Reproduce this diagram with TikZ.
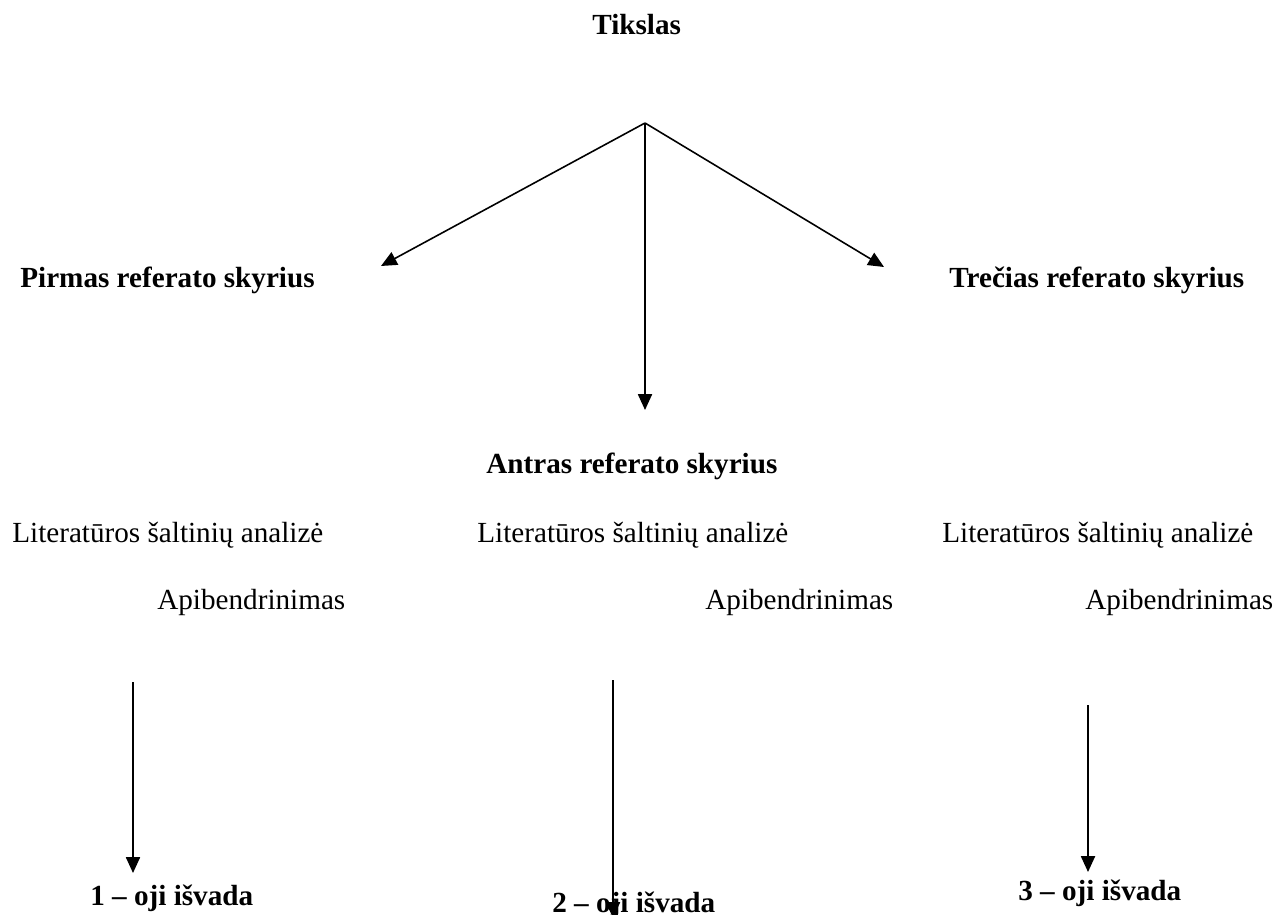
\documentclass[tikz,border=0pt]{standalone}
\usepackage{fontspec}
\setmainfont{Liberation Serif}
\usetikzlibrary{arrows.meta}
\begin{document}
\begin{tikzpicture}[x=0.02cm,y=-0.02cm,
  txt/.style={anchor=base west,inner sep=0pt,font=\fontsize{16.6}{19}\selectfont},
  head/.style={txt,font=\fontsize{16.6}{19}\selectfont\bfseries},
  arr/.style={line width=0.9pt,-{Triangle[length=9pt,width=8pt]}}]
\useasboundingbox (0,0) rectangle (1277,915);
% titles
\node[head] (goal) at (592,35) {Tikslas};
\node[head] (ch1) at (20,288) {Pirmas referato skyrius};
\node[head] (ch3) at (949,288) {Trečias referato skyrius};
\node[head] (ch2) at (486,473) {Antras referato skyrius};
% working steps under each chapter
\node[txt] (lit1) at (12,542) {Literatūros šaltinių analizė};
\node[txt] (lit2) at (477,542) {Literatūros šaltinių analizė};
\node[txt] (lit3) at (942,542) {Literatūros šaltinių analizė};
\node[txt] (gen1) at (157,609) {Apibendrinimas};
\node[txt] (gen2) at (705,609) {Apibendrinimas};
\node[txt] (gen3) at (1085,609) {Apibendrinimas};
% conclusions
\node[head] (c1) at (90,905) {1 – oji išvada};
\node[head] (c2) at (552,912) {2 – oji išvada};
\node[head] (c3) at (1018,900) {3 – oji išvada};
% branching point and arrow ends
\coordinate (apex) at (645,123);
\coordinate (to1) at (381,266);
\coordinate (to3) at (884,267);
\coordinate (to2) at (645,410);
\coordinate (s1) at (133,682);
\coordinate (e1) at (133,873);
\coordinate (s2) at (613,680);
\coordinate (e2) at (613,918);
\coordinate (s3) at (1088,705);
\coordinate (e3) at (1088,872);
\draw[arr] (apex) -- (to1);
\draw[arr] (apex) -- (to3);
\draw[arr] (apex) -- (to2);
\draw[arr] (s1) -- (e1);
\draw[arr] (s2) -- (e2);
\draw[arr] (s3) -- (e3);
\end{tikzpicture}
\end{document}
